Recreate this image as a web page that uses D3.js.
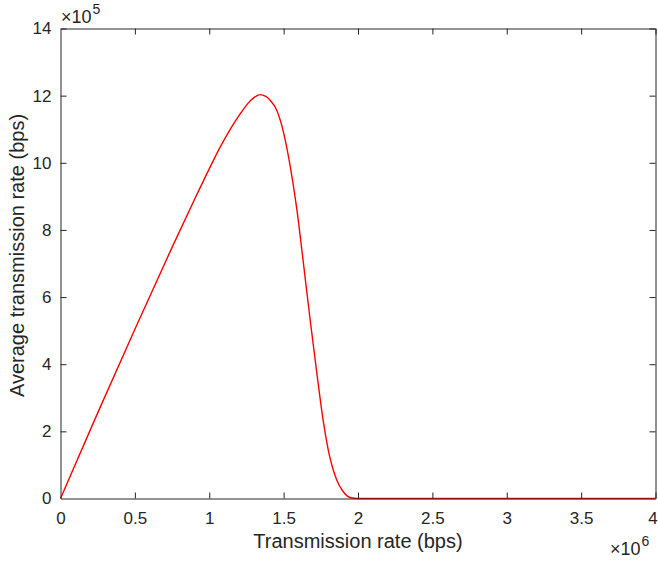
<!DOCTYPE html>
<html><head><meta charset="utf-8">
<script src="https://cdn.jsdelivr.net/npm/d3@7"></script>
<style>body{margin:0;background:#fff}svg{display:block}text{font-family:"Liberation Sans",Arial,sans-serif;fill:#262626}</style>
</head><body><div id="c"></div>
<script>
// x in units of 1e6 bps, y in units of 1e5 bps
const rateX = [0,0.25,0.5,0.75,0.9,1.0,1.075,1.15,1.21,1.26,1.30,1.34,1.38,1.408,1.453,1.498,1.543,1.588,1.632,1.677,1.722,1.767,1.812,1.857,1.901,1.946,2.0,2.5,3.0,3.5,4.0];
const avgRate = [0,2.55,5.04,7.48,8.90,9.82,10.48,11.06,11.47,11.77,11.94,12.03,11.98,11.87,11.57,10.93,9.93,8.64,7.05,5.37,3.78,2.29,1.2,0.55,0.2,0.03,0,0,0,0,0];
const xTicks = [0,0.5,1,1.5,2,2.5,3,3.5,4];
const yTicks = [0,2,4,6,8,10,12,14];
const xLabel = "Transmission rate (bps)";
const yLabel = "Average transmission rate (bps)";

const W=658,H=564, L=60.5, R=655.5, T=28.5, B=498.5;
const svg=d3.select("#c").append("svg").attr("width",W).attr("height",H);
const x=d3.scaleLinear().domain([0,4]).range([L,R]);
const y=d3.scaleLinear().domain([0,14]).range([B,T]);
const fs=17, tk=6, col="#262626";

const data=rateX.map((v,i)=>({x:v,y:avgRate[i]}));
svg.append("path").datum(data).attr("fill","none").attr("stroke","#ff0000").attr("stroke-width",1.4)
  .attr("d",d3.line().x(d=>x(d.x)).y(d=>y(d.y)).curve(d3.curveMonotoneX));

const fmt=d=>String(d);
const gb=svg.append("g").attr("transform",`translate(0,${B})`).call(d3.axisBottom(x).tickValues(xTicks).tickFormat(fmt).tickSizeInner(-tk).tickSizeOuter(0).tickPadding(13));
const gt=svg.append("g").attr("transform",`translate(0,${T})`).call(d3.axisTop(x).tickValues(xTicks).tickFormat("").tickSizeInner(-tk).tickSizeOuter(0));
const gl=svg.append("g").attr("transform",`translate(${L},0)`).call(d3.axisLeft(y).tickValues(yTicks).tickFormat(fmt).tickSizeInner(-tk).tickSizeOuter(0).tickPadding(9));
const gr=svg.append("g").attr("transform",`translate(${R},0)`).call(d3.axisRight(y).tickValues(yTicks).tickFormat("").tickSizeInner(-tk).tickSizeOuter(0));
[gb,gt,gl,gr].forEach(g=>{g.selectAll("path").attr("stroke",col).attr("stroke-width",1);g.selectAll("line").attr("stroke",col);g.selectAll("text").attr("font-size",fs).attr("fill",col).attr("font-family",'"Liberation Sans",Arial,sans-serif');});
gb.select(".tick:first-of-type line").remove();gt.select(".tick:first-of-type line").remove();
gl.select(".tick:first-of-type line").remove();gr.select(".tick:first-of-type line").remove();
gb.select(".tick:last-of-type text").attr("dx",-3);

svg.append("text").attr("x",(L+R)/2).attr("y",548).attr("text-anchor","middle").attr("font-size",20).text(xLabel);
svg.append("text").attr("transform",`translate(23.5,255.5) rotate(-90)`).attr("text-anchor","middle").attr("font-size",20).text(yLabel);

const e1=svg.append("text").attr("x",61).attr("y",23.3).attr("font-size",18);
e1.append("tspan").text("×10");
e1.append("tspan").attr("font-size",14).attr("dx",1).attr("dy",-9).text("5");
const e2=svg.append("text").attr("x",610).attr("y",555).attr("font-size",18);
e2.append("tspan").text("×10");
e2.append("tspan").attr("font-size",14).attr("dx",1).attr("dy",-9).text("6");
</script></body></html>
